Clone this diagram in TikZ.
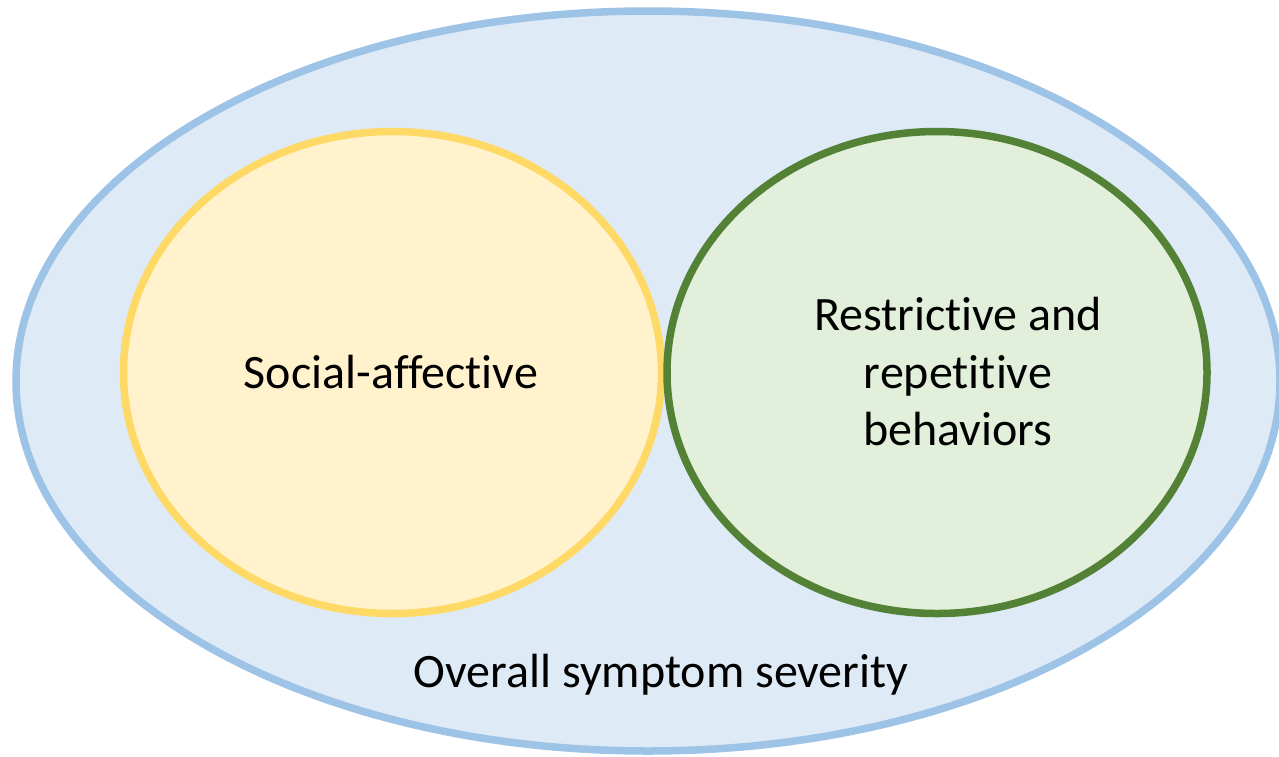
\documentclass[tikz,border=0pt]{standalone}
\usepackage{fontspec}
\setmainfont{Carlito}[RawFeature={-liga;-clig;-calt;-dlig}]
\usetikzlibrary{shapes.geometric}
\definecolor{blueline}{HTML}{9DC3E6}
\definecolor{bluefill}{HTML}{DEEAF6}
\definecolor{yellowline}{HTML}{FFD966}
\definecolor{yellowfill}{HTML}{FFF2CC}
\definecolor{greenline}{HTML}{538135}
\definecolor{greenfill}{HTML}{E2EFDA}
\begin{document}
\begin{tikzpicture}[x=1pt,y=-1pt,
  domain/.style={ellipse,draw=#1line,fill=#1fill,line width=7.5pt,inner sep=0pt},
  txt/.style={align=center,font=\fontsize{48}{57.5}\selectfont}]
        \useasboundingbox (0,0) rectangle (1279,756);
        \clip (0,0) rectangle (1279,756);
        \node [domain=blue,minimum width=1264pt,minimum height=740pt] (overall) at (648,381) {};
        \node [domain=yellow,minimum width=538pt,minimum height=482pt] (social) at (392.5,372.5) {};
        \node [domain=green,minimum width=540pt,minimum height=482pt] (rrb) at (937,372.5) {};
        \node [txt] (sociallabel) at (391,372) {Social-affective};
        \node [txt] (rrblabel) at (958,372) {Restrictive and\\repetitive\\behaviors};
        \node [txt,anchor=base] (overalllabel) at (661,687) {Overall symptom severity};
    \end{tikzpicture}
\end{document}
